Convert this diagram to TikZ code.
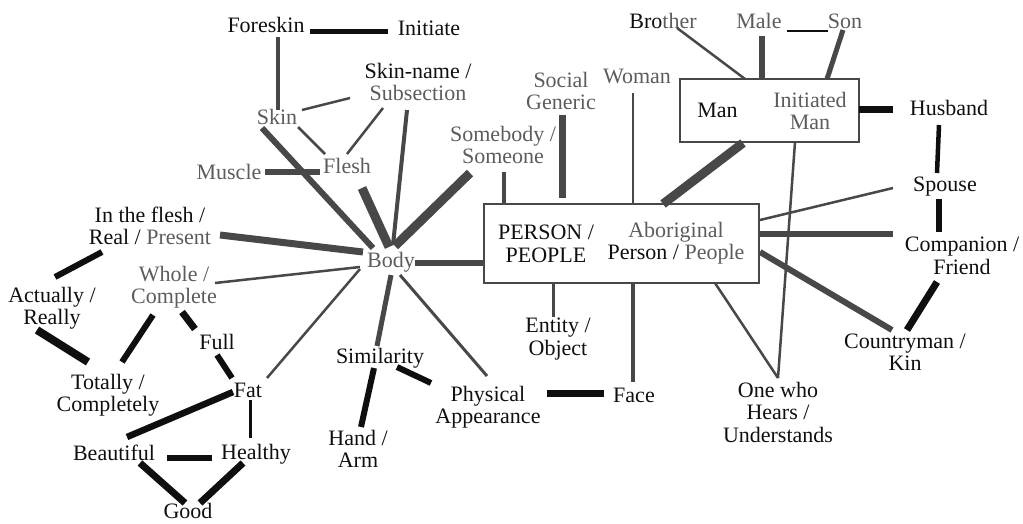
\documentclass[tikz,border=0pt]{standalone}
\usepackage{fontspec}
\setmainfont{Liberation Serif}
\usetikzlibrary{calc}
\definecolor{gr}{RGB}{92,92,92}
\definecolor{lg}{RGB}{72,72,72}
\definecolor{bk}{RGB}{15,15,15}
\tikzset{
  txt/.style={font=\fontsize{22}{22.5}\selectfont, inner sep=1.5pt, align=center, text=bk},
  gtxt/.style={txt, text=gr},
  boxn/.style={draw=lg, line width=2pt, inner sep=0pt},
  gl/.style={draw=lg, line width=#1},
  bl/.style={draw=bk, line width=#1},
}
\begin{document}
\begin{tikzpicture}[x=1pt,y=-1pt]
\useasboundingbox (0,0) rectangle (1023,523);
% boxes
\node[boxn, minimum width=275pt, minimum height=79pt] (person) at (621.5,243.5) {};
\node[boxn, minimum width=179pt, minimum height=63pt] (manbox) at (769.5,110.5) {};
% nodes
\node[txt] (foreskin) at (266,25) {Foreskin};
\node[txt] (initiate) at (429,28) {Initiate};
\node[txt] (skinname) at (418,82) {Skin-name /\\{\color{gr}Subsection}};
\node[gtxt] (social) at (561,91) {Social\\Generic};
\node[gtxt] (woman) at (637,76) {Woman};
\node[txt] (brother) at (663,21) {Bro{\color{gr}ther}};
\node[gtxt] (male) at (759,21) {Male};
\node[gtxt] (son) at (845,21) {Son};
\node[txt] (man) at (717.5,110) {Man};
\node[gtxt] (initman) at (810,111) {Initiated\\Man};
\node[txt] (husband) at (949,108) {Husband};
\node[gtxt] (skin) at (277,117) {Skin};
\node[gtxt] (flesh) at (347,166) {Flesh};
\node[gtxt] (muscle) at (229,172) {Muscle};
\node[gtxt] (somebody) at (503,145) {Somebody /\\Someone};
\node[gtxt] (body) at (391,262) {Body};
\node[txt] (pp) at (546,244) {PERSON /\\PEOPLE};
\node[txt] (abo) at (676,243) {{\color{gr}Aboriginal}\\Person / {\color{gr}People}};
\node[txt] (spouse) at (945,187) {Spouse};
\node[txt] (companion) at (962,256) {Companion /\\Friend};
\node[txt] (inflesh) at (150,226) {In the flesh /\\Real / {\color{gr}Present}};
\node[txt] (actually) at (52,308) {Actually /\\Really};
\node[gtxt] (whole) at (174,287) {Whole /\\Complete};
\node[txt] (full) at (217,342) {Full};
\node[txt] (totally) at (108,395) {Totally /\\Completely};
\node[txt] (fat) at (248,390) {Fat};
\node[txt] (beautiful) at (114,453) {Beautiful};
\node[txt] (healthy) at (256,454) {Healthy};
\node[txt] (good) at (188,511) {Good};
\node[txt] (similarity) at (380,358) {Similarity};
\node[txt] (hand) at (358,449) {Hand /\\Arm};
\node[txt] (physical) at (488,407) {Physical\\Appearance};
\node[txt] (face) at (634,395) {Face};
\node[txt] (entity) at (558,339) {Entity /\\Object};
\node[txt] (country) at (905,352) {Countryman /\\Kin};
\node[txt] (onewho) at (778,412) {One who\\Hears /\\Understands};
% connectors
\draw[bl=5pt] ($(foreskin)+(44,6)$) -- ($(initiate)+(-41,3)$);
\draw[gl=4pt] ($(foreskin)+(12,12)$) -- ($(skin)+(1,-7)$);
\draw[gl=2.5pt] ($(skin)+(25,-7)$) -- ($(skinname)+(-68,16)$);
\draw[gl=2.5pt] ($(skin)+(21,10)$) -- ($(flesh)+(-22,-12)$);
\draw[gl=2.5pt] ($(flesh)+(0,-12)$) -- ($(skinname)+(-35,26)$);
\draw[gl=6pt] ($(muscle)+(36,0)$) -- ($(flesh)+(-27,6)$);
\draw[gl=6pt] ($(skin)+(-15,11)$) -- ($(body)+(-18,-14)$);
\draw[gl=9pt] ($(flesh)+(15,22)$) -- ($(body)+(-2,-15)$);
\draw[gl=4pt] ($(skinname)+(-11,28)$) -- ($(body)+(2,-17)$);
\draw[gl=9pt] ($(somebody)+(-33,28)$) -- ($(body)+(4,-16)$);
\draw[gl=7pt] ($(inflesh)+(70,9)$) -- ($(body)+(-28,-10)$);
\draw[gl=2.5pt] ($(whole)+(41,-4)$) -- ($(body)+(-31,5)$);
\draw[gl=2.5pt] ($(fat)+(19,-12)$) -- ($(body)+(-31,7)$);
\draw[gl=6pt] ($(body)+(24,1)$) -- ($(person)+(-137.5,19.5)$);
\draw[gl=5pt] ($(body)+(0,13)$) -- ($(similarity)+(-3,-12)$);
\draw[gl=3pt] ($(body)+(9,13)$) -- ($(physical)+(-1,-31)$);
\draw[bl=6pt] ($(similarity)+(-6,10)$) -- ($(hand)+(3,-22)$);
\draw[bl=6pt] ($(similarity)+(17,9)$) -- ($(physical)+(-57,-24)$);
\draw[bl=7pt] ($(physical)+(59,-14)$) -- ($(face)+(-30,-2)$);
\draw[gl=3pt] ($(person)+(-68.5,39.5)$) -- ($(entity)+(-5,-22)$);
\draw[gl=4pt] ($(person)+(11.5,39.5)$) -- ($(face)+(-1,-13)$);
\draw[gl=4pt] ($(somebody)+(1,27)$) -- ($(person)+(-117.5,-39.5)$);
\draw[gl=7pt] ($(social)+(1,24)$) -- ($(person)+(-59.5,-45.5)$);
\draw[gl=2.5pt] ($(woman)+(-4,17)$) -- ($(person)+(11.5,-39.5)$);
\draw[gl=9pt] ($(manbox)+(-26.5,32.5)$) -- ($(person)+(41.5,-39.5)$);
\draw[gl=2.5pt] ($(brother)+(14,7)$) -- ($(manbox)+(-24.5,-31.5)$);
\draw[gl=6pt] ($(male)+(3,15)$) -- ($(manbox)+(-7.5,-31.5)$);
\draw[bl=2.5pt] ($(male)+(28,10)$) -- ($(son)+(-17,10)$);
\draw[gl=5pt] ($(son)+(-2,9)$) -- ($(manbox)+(57.5,-31.5)$);
\draw[bl=7pt] ($(manbox)+(89.5,-1.5)$) -- ($(husband)+(-56,1)$);
\draw[bl=4.5pt] ($(husband)+(-10,17)$) -- ($(spouse)+(-8,-14)$);
\draw[bl=6pt] ($(spouse)+(-6,12)$) -- ($(companion)+(-23,-24)$);
\draw[gl=2.5pt] ($(person)+(138.5,-23.5)$) -- ($(spouse)+(-52,1)$);
\draw[gl=6pt] ($(person)+(138.5,-9.5)$) -- ($(companion)+(-69,-22)$);
\draw[gl=6pt] ($(person)+(138.5,8.5)$) -- ($(country)+(-13,-22)$);
\draw[bl=7pt] ($(companion)+(-25,26)$) -- ($(country)+(2,-22)$);
\draw[gl=2.5pt] ($(manbox)+(25.5,31.5)$) -- ($(onewho)+(0,-34)$);
\draw[gl=2.5pt] ($(person)+(93.5,39.5)$) -- ($(onewho)+(0,-34)$);
\draw[bl=6pt] ($(inflesh)+(-48,26)$) -- ($(actually)+(3,-31)$);
\draw[bl=8pt] ($(actually)+(-15,22)$) -- ($(totally)+(-20,-33)$);
\draw[bl=6pt] ($(whole)+(-21,28)$) -- ($(totally)+(14,-33)$);
\draw[bl=7pt] ($(whole)+(8,25)$) -- ($(full)+(-22,-13)$);
\draw[bl=6pt] ($(full)+(0,13)$) -- ($(fat)+(-16,-12)$);
\draw[bl=6.5pt] ($(fat)+(-15,2)$) -- ($(beautiful)+(13,-16)$);
\draw[bl=3pt] ($(fat)+(2,10)$) -- ($(healthy)+(-6,-16)$);
\draw[bl=6pt] ($(beautiful)+(53,5)$) -- ($(healthy)+(-44,4)$);
\draw[bl=7pt] ($(beautiful)+(26,10)$) -- ($(good)+(-3,-8)$);
\draw[bl=7pt] ($(healthy)+(-13,9)$) -- ($(good)+(12,-8)$);
\end{tikzpicture}
\end{document}
